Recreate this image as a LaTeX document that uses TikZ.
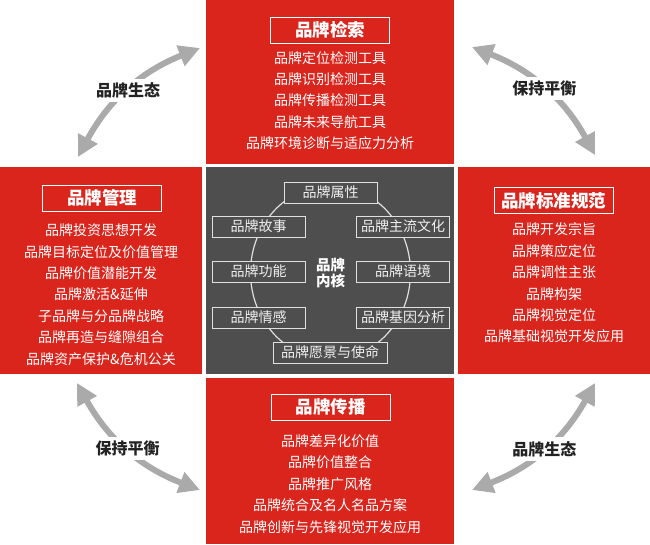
\documentclass[tikz,border=0pt]{standalone}
\usepackage{fontspec}
\setmainfont{Noto Sans CJK SC}
\usepackage{xcolor}
\definecolor{myred}{RGB}{218,37,29}
\definecolor{mygray}{RGB}{78,78,78}
\definecolor{myarrow}{RGB}{170,170,170}
\definecolor{mydark}{RGB}{35,35,35}
\usepackage{tikz}
\usetikzlibrary{arrows.meta}

\begin{document}
\begin{tikzpicture}[x=1pt,y=-1pt]
	\tikzstyle{panel}=[rectangle,inner sep=0pt,outer sep=0pt,fill=myred];
	\tikzstyle{title}=[draw=white,line width=0.8pt,minimum width=119pt,minimum height=26pt,inner sep=0pt,inner xsep=7pt,text=white,font=\fontsize{17.5}{17.5}\selectfont\bfseries];
	\tikzstyle{list}=[align=center,inner sep=0pt,text=white,font=\fontsize{14}{21.4}\selectfont];
	\tikzstyle{tag}=[draw=black!12,line width=0.8pt,fill=mygray,minimum width=93pt,minimum height=21pt,inner sep=0pt,inner xsep=4pt,text=black!6,font=\fontsize{14}{14}\selectfont];
	\tikzstyle{arr}=[myarrow,line width=6pt,{Triangle[length=21pt,width=21pt]}-{Triangle[length=21pt,width=21pt]}];
	\tikzstyle{lab}=[fill=white,inner sep=4pt,text=mydark,font=\fontsize{16}{16}\selectfont\bfseries];
	\useasboundingbox (0,0) rectangle (650,544);
	\node[panel,minimum width=248pt,minimum height=164pt] (top)    at (330,82)    {};
	\node[panel,minimum width=202pt,minimum height=207pt] (left)   at (101,270.5) {};
	\node[panel,fill=mygray,minimum width=248pt,minimum height=207pt] (core) at (330,270.5) {};
	\node[panel,minimum width=192pt,minimum height=207pt] (right)  at (554,270.5) {};
	\node[panel,minimum width=248pt,minimum height=166pt] (bottom) at (330,461)   {};
	\node[title] (top title)    at (330,30)    {品牌检索};
	\node[title] (left title)   at (102,198)   {品牌管理};
	\node[title] (right title)  at (553.5,200.5) {品牌标准规范};
	\node[title] (bottom title) at (330.5,407) {品牌传播};
	\node[list] (top list) at (330,100.5) {品牌定位检测工具\\品牌识别检测工具\\品牌传播检测工具\\品牌未来导航工具\\品牌环境诊断与适应力分析};
	\node[list] (left list) at (101,294.5) {品牌投资思想开发\\品牌目标定位及价值管理\\品牌价值潜能开发\\品牌激活\&延伸\\子品牌与分品牌战略\\品牌再造与缝隙组合\\品牌资产保护\&危机公关};
	\node[list] (right list) at (554,283) {品牌开发宗旨\\品牌策应定位\\品牌调性主张\\品牌构架\\品牌视觉定位\\品牌基础视觉开发应用};
	\node[list] (bottom list) at (330,484) {品牌差异化价值\\品牌价值整合\\品牌推广风格\\品牌统合及名人名品方案\\品牌创新与先锋视觉开发应用};
	\draw[black!12,line width=1.2pt] (330.5,272.5) ellipse [x radius=80,y radius=87];
	\node[align=center,inner sep=0pt,text=white,font=\fontsize{14.5}{15.5}\selectfont\bfseries] (kernel) at (330.5,273) {品牌\\内核};
	\node[tag] (attr)    at (330.5,192.5) {品牌属性};
	\node[tag] (story)   at (258.5,226.5) {品牌故事};
	\node[tag] (culture) at (403,226.5)   {品牌主流文化};
	\node[tag] (func)    at (258.5,271.5) {品牌功能};
	\node[tag] (context) at (403,271.5)   {品牌语境};
	\node[tag] (emotion) at (258.5,317.5) {品牌情感};
	\node[tag] (gene)    at (403,317.5)   {品牌基因分析};
	\node[tag,minimum width=114pt] (vision) at (330,352.5) {品牌愿景与使命};
	\coordinate (tl a) at (78,157);
	\coordinate (tl b) at (200,48);
	\coordinate (tr a) at (472,47);
	\coordinate (tr b) at (595,155);
	\coordinate (bl a) at (77,383);
	\coordinate (bl b) at (200,490);
	\coordinate (br a) at (472,490);
	\coordinate (br b) at (595,383);
	\draw[arr] (tl a) to[bend left=20]  node[lab] (tl label) {品牌生态} (tl b);
	\draw[arr] (tr a) to[bend left=20]  node[lab] (tr label) {保持平衡} (tr b);
	\draw[arr] (bl a) to[bend right=20] node[lab] (bl label) {保持平衡} (bl b);
	\draw[arr] (br a) to[bend right=20] node[lab] (br label) {品牌生态} (br b);
\end{tikzpicture}
\end{document}
